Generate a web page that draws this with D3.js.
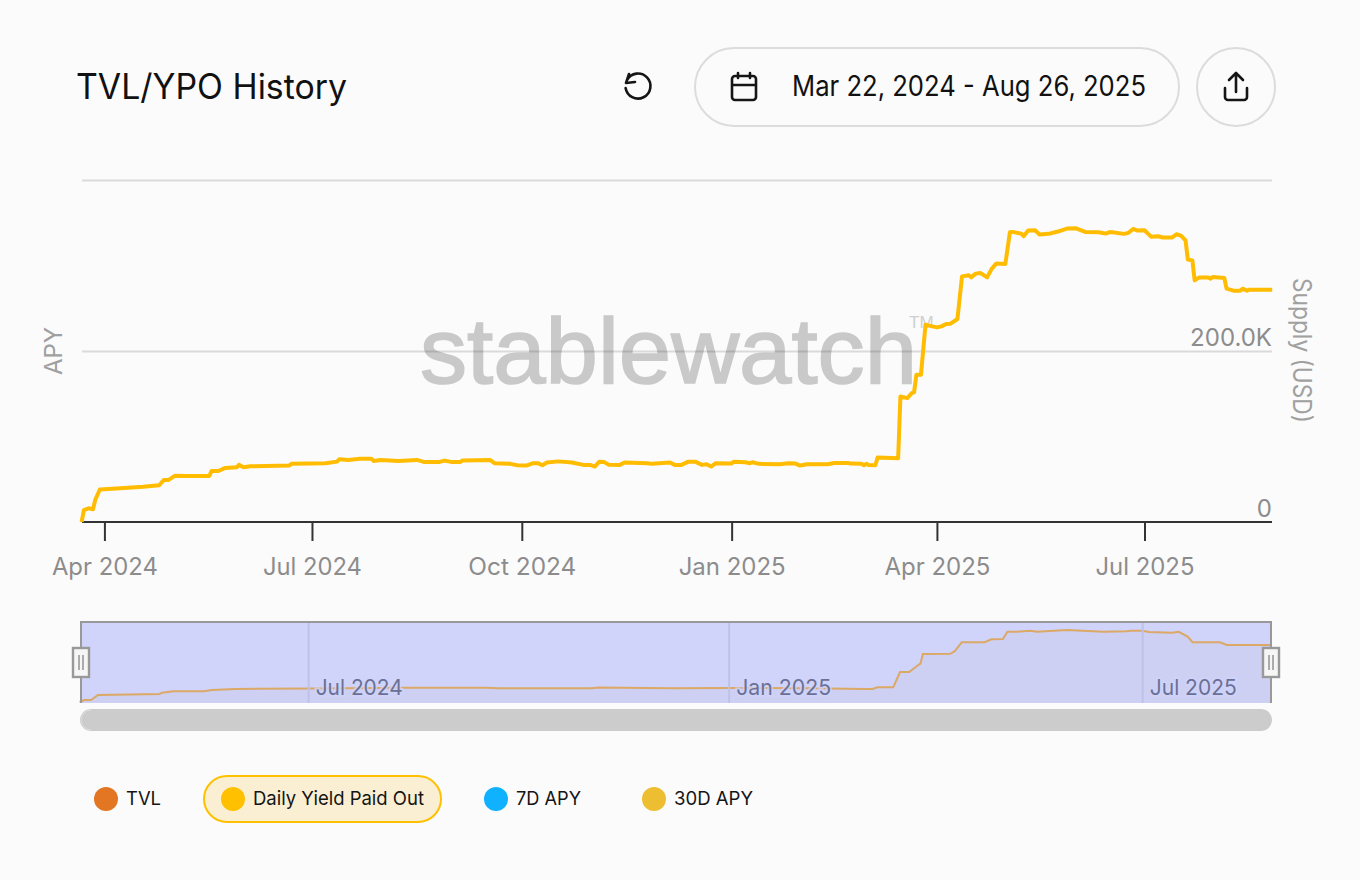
<!DOCTYPE html>
<html><head><meta charset="utf-8">
<script src="https://cdnjs.cloudflare.com/ajax/libs/d3/7.8.5/d3.min.js"></script>
<style>html,body{margin:0;padding:0;background:#fbfbfb;overflow:hidden}svg{display:block}text{font-family:Inter,sans-serif}</style>
</head><body><svg id="c" width="1360" height="880"></svg>
<script>
const startDate = new Date(2024, 2, 22), endDate = new Date(2025, 7, 26);
const dayOffsets = [0,1,3,5,6,8,17,27,34,36,38,41,46,56,57,60,63,68,69,71,74,91,92,107,112,113,117,122,127,128,131,139,147,150,157,159,162,166,167,179,181,188,191,195,198,200,202,204,209,215,220,223,225,227,229,231,236,238,248,250,258,260,263,266,269,272,274,276,278,285,286,291,293,294,297,306,310,313,315,318,327,330,336,337,342,343,344,345,348,349,358,359,362,364,365,366,368,370,373,375,377,379,381,384,386,389,390,392,394,397,399,401,405,407,408,412,413,415,418,420,424,428,432,436,440,446,449,451,457,459,461,463,466,469,472,474,478,480,482,484,485,487,488,490,494,495,496,501,502,505,508,509,511,512,522];
const yieldValues = [0,14,16,15,26,38,39.5,41.3,43,49,49,54.2,53.9,53.9,59.7,59.7,63.3,64,66.8,64,65.2,66,68,68.8,70.6,73.4,72.6,74.1,74.1,71.4,72.6,71.4,72.6,70.3,70.3,71.8,70.3,70.3,71.8,72.6,68.8,68,66.4,66,68.8,68.8,66.4,69.5,70.9,69.5,66.8,66.8,64.8,70.6,70.3,67.1,66.8,69.5,68.8,68,69.5,66.8,66.8,70.6,70.6,66.8,67.6,64.8,68.8,68.3,70.6,69.9,68.8,69.9,68,67.6,68.8,68.3,66,67.6,67.6,69.1,69.1,68.3,68,66.4,68,66.8,66.4,75.3,74.6,146.8,144.9,150.7,151.9,172.2,172.2,230.7,228.8,227.6,228.8,231.6,231.9,237.4,287.3,288.5,286.1,290.5,291.3,286.1,296,302.2,301.8,338.9,339.3,337.3,334.2,340.8,341.2,336.2,337,339.7,343.2,343.5,339.3,338.9,337.3,339.3,337,338.2,342.8,340.8,341.2,333.5,334.2,332.7,332.7,336.5,335,329.5,306.9,306,282.6,286.1,286.1,284.6,286.6,285.4,272.9,270.6,270.6,272.9,270.6,271.7,271.7];
const navDays = [1,3,6,9,36,37,42,55,59,69,102,144,179,184,225,228,260,285,320,345,348,350,357,360,364,367,369,370,382,384,387,397,400,405,407,411,417,420,433,449,459,461,466,469,479,482,486,488,500,503,522];
const navValues = [0,9.5,9.5,33.4,38.2,44.4,51,51,57.2,62,65,68,68,66,66,69,66,67,66,62,62,70,70,143,143,168,184.6,229,230,243,285,285,299,300.5,335,335,340,335,343.5,335,337,340,340,334,330,335,311,285,285,272,272];
const xTickDates = [new Date(2024,3,1),new Date(2024,6,1),new Date(2024,9,1),new Date(2025,0,1),new Date(2025,3,1),new Date(2025,6,1)];
const xTickWidths = [106,99,108,107,106,99];
const navTickDates = [new Date(2024,6,1),new Date(2025,0,1),new Date(2025,6,1)];
const navTickWidths = [87,95,87];
const yTicks = [0,200,400];
const legendNames = ["TVL","Daily Yield Paid Out","7D APY","30D APY"];
const legendColors = ["#E37622","#FFC000","#10B2FF","#EDBE32"];
const legendDotX = [106,233,496,654];
const legendTextW = [35,171,65,79];

const svg = d3.select("#c");
const toDate = d => d3.timeDay.offset(startDate, d);
const fit = (sel, w) => sel.attr("textLength", w).attr("lengthAdjust", "spacingAndGlyphs");

const x = d3.scaleTime().domain([startDate, endDate]).range([81.6, 1272.2]);
const y = d3.scaleLinear().domain([0, 400]).range([522, 180]);
const nx = d3.scaleTime().domain([startDate, endDate]).range([77.4, 1270.2]);
const ny = d3.scaleLinear().domain([0, 343.5]).range([702, 630]);

// header
fit(svg.append("text").attr("x",76).attr("y",99).attr("font-size",35).attr("fill","#111").text("TVL/YPO History"),271);
svg.append("rect").attr("x",695).attr("y",48).attr("width",484).attr("height",78).attr("rx",39).attr("fill","none").attr("stroke","#dcdcdc").attr("stroke-width",2);
svg.append("circle").attr("cx",1236).attr("cy",87).attr("r",39).attr("fill","none").attr("stroke","#dcdcdc").attr("stroke-width",2);
fit(svg.append("text").attr("x",792).attr("y",96).attr("font-size",28).attr("fill","#111").text("Mar 22, 2024 - Aug 26, 2025"),354);
const ic = svg.append("g").attr("fill","none").attr("stroke","#151515").attr("stroke-width",2.6).attr("stroke-linecap","round").attr("stroke-linejoin","round");
ic.append("path").attr("d","M629 74 L626 83 L635 82 M627 80 A12.5 12.5 0 1 1 625.6 88");
ic.append("path").attr("d","M735 76 H753 A3 3 0 0 1 756 79 V97 A3 3 0 0 1 753 100 H735 A3 3 0 0 1 732 97 V79 A3 3 0 0 1 735 76 Z M732 85 H756 M738 73 V78 M750 73 V78");
ic.append("path").attr("d","M1236 74 V92 M1229 80 L1236 73 L1243 80 M1225 88 V97 A3 3 0 0 0 1228 100 H1244 A3 3 0 0 0 1247 97 V88");

// watermark
svg.append("text").attr("x",420).attr("y",383).attr("font-size",92).attr("fill","#c9c9c9").attr("stroke","#c9c9c9").attr("stroke-width",1.6)
  .style("font-family","'Liberation Sans'").attr("textLength",497).attr("lengthAdjust","spacingAndGlyphs").text("stablewatch");
svg.append("text").attr("x",909).attr("y",328).attr("font-size",17).attr("fill","#cfcfcf").style("font-family","'Liberation Sans'").text("TM");

// y axis
const yAxis = d3.axisRight(y).tickValues(yTicks).tickSize(0).tickFormat(d => d===0?"0":d===200?"200.0K":"");
const gy = svg.append("g").attr("transform","translate(1272,0)").call(yAxis);
gy.select(".domain").remove();
gy.selectAll("text").attr("x",0).attr("dx",0).attr("text-anchor","end").attr("dy",-6).attr("font-size",24).attr("fill","#8c8c8c").style("font-family","Inter");
gy.selectAll(".tick line").attr("x1",0).attr("x2",-1190).attr("stroke","rgba(0,0,0,0.13)").attr("stroke-width",2);
gy.selectAll(".tick").filter(d=>d===0).select("line").remove();

// x axis
const xAxis = d3.axisBottom(x).tickValues(xTickDates).tickSize(19).tickPadding(17).tickFormat(d3.timeFormat("%b %Y"));
const gx = svg.append("g").attr("transform","translate(0,522)").call(xAxis);
gx.select(".domain").attr("d","M82,0H1272").attr("stroke","#333").attr("stroke-width",2);
gx.selectAll(".tick line").attr("stroke","#333").attr("stroke-width",2);
gx.selectAll("text").attr("font-size",24).attr("fill","#8c8c8c").style("font-family","Inter").attr("lengthAdjust","spacingAndGlyphs").attr("textLength",(d,i)=>xTickWidths[i]);

// axis names
svg.append("text").attr("transform","translate(62,351) rotate(-90)").attr("text-anchor","middle").attr("font-size",24).attr("fill","#a0a0a0").text("APY");
fit(svg.append("text").attr("transform","translate(1292.5,350.5) rotate(90)").attr("text-anchor","middle").attr("font-size",25).attr("fill","#a0a0a0").text("Supply (USD)"),145);

// main line
const pts = dayOffsets.map((d,i)=>[toDate(d),yieldValues[i]]);
svg.append("path").datum(pts).attr("fill","none").attr("stroke","#FFBC00").attr("stroke-width",4).attr("stroke-linejoin","round")
  .attr("d",d3.line().x(d=>x(d[0])).y(d=>y(d[1])));

// navigator
const nav = svg.append("g");
nav.append("rect").attr("x",81).attr("y",622).attr("width",1190).attr("height",81).attr("fill","#D0D4FB");
const npts = navDays.map((d,i)=>[toDate(d),navValues[i]]);
nav.append("path").datum(npts).attr("fill","#CDD0F3").attr("d",d3.area().x(d=>nx(d[0])).y0(703).y1(d=>ny(d[1])));
nav.append("path").datum(npts).attr("fill","none").attr("stroke","#DBA865").attr("stroke-width",2)
  .attr("d",d3.line().x(d=>nx(d[0])).y(d=>ny(d[1])));
const nxAxis = d3.axisBottom(nx).tickValues(navTickDates).tickSize(81).tickFormat(d3.timeFormat("%b %Y"));
const gn = nav.append("g").attr("transform","translate(0,622)").call(nxAxis);
gn.select(".domain").remove();
gn.selectAll(".tick line").attr("stroke","#BEC2E8").attr("stroke-width",2);
gn.selectAll("text").attr("text-anchor","start").attr("x",7).attr("y",73).attr("dy",0).attr("font-size",22).attr("fill","#6B7096").style("font-family","Inter")
  .attr("lengthAdjust","spacingAndGlyphs").attr("textLength",(d,i)=>navTickWidths[i])
  .attr("stroke","rgba(208,212,251,0.75)").attr("stroke-width",4).style("paint-order","stroke");
nav.append("path").attr("d","M81 703 V622 H1271 V703").attr("fill","none").attr("stroke","#999").attr("stroke-width",2);
[[73,80],[1263,1270]].forEach(([hx,c])=>{
  nav.append("rect").attr("x",hx).attr("y",648).attr("width",16).attr("height",29).attr("fill","#f6f6f6").attr("stroke","#999").attr("stroke-width",2.4);
  nav.append("path").attr("d",`M${hx+6} 655 V670 M${hx+10} 655 V670`).attr("stroke","#999").attr("stroke-width",1.6);
});
svg.append("rect").attr("x",80).attr("y",709).attr("width",1192).attr("height",22).attr("rx",11).attr("fill","#cccccc");
svg.append("path").attr("d","M91 710 A10 10 0 0 0 91 730").attr("fill","none").attr("stroke","#dedede").attr("stroke-width",1);

// legend
svg.append("rect").attr("x",204).attr("y",776).attr("width",237).attr("height",46).attr("rx",23).attr("fill","#FAEFD2").attr("stroke","#FFC000").attr("stroke-width",2);
legendNames.forEach((n,i)=>{
  svg.append("circle").attr("cx",legendDotX[i]).attr("cy",799).attr("r",12).attr("fill",legendColors[i]);
  fit(svg.append("text").attr("x",legendDotX[i]+20).attr("y",805).attr("font-size",19).attr("fill","#151515").text(n),legendTextW[i]);
});
</script></body></html>
